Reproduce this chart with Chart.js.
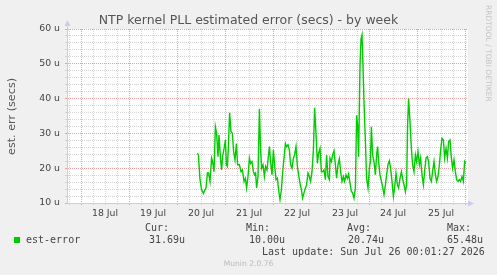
<!DOCTYPE html>
<html>
<head>
<meta charset="utf-8">
<script src="https://cdn.jsdelivr.net/npm/chart.js@4.4.1/dist/chart.umd.min.js"></script>
<style>
  html, body { margin: 0; padding: 0; background: #f0f0f0; }
  #wrap { position: relative; width: 497px; height: 275px; overflow: hidden; }
  canvas { position: absolute; left: 0; top: 0; }
  .t { position: absolute; white-space: pre; line-height: 1; font-family: "DejaVu Sans", sans-serif; }
  .mono { font-family: "DejaVu Sans Mono", monospace; font-size: 10px; color: #444; }
</style>
</head>
<body>
<div id="wrap">
  <canvas id="chart" width="497" height="275"></canvas>
  <div class="t" style="left:0;width:497px;top:13.5px;text-align:center;font-size:12.5px;color:#555">NTP kernel PLL estimated error (secs) - by week</div>
  <div class="t" style="left:6px;top:29px;width:12px;height:174px;line-height:12px;font-size:11.2px;color:#555;writing-mode:vertical-rl;transform:rotate(180deg);text-align:center">est. err (secs)</div>
  <div class="t" style="left:484px;top:5px;width:8px;line-height:8px;font-size:7.5px;color:#c4c4c4;writing-mode:vertical-rl">RRDTOOL / TOBI OETIKER</div>
  <div style="position:absolute;left:14px;top:237px;width:6px;height:6px;background:#00cc00"></div>
  <div class="t mono" style="left:26px;top:235px">est-error</div>
  <div class="t mono" style="left:145px;top:223px">Cur:</div>
  <div class="t mono" style="left:149px;top:235px">31.69u</div>
  <div class="t mono" style="left:246px;top:223px">Min:</div>
  <div class="t mono" style="left:249px;top:235px">10.00u</div>
  <div class="t mono" style="left:347px;top:223px">Avg:</div>
  <div class="t mono" style="left:348px;top:235px">20.74u</div>
  <div class="t mono" style="left:447px;top:223px">Max:</div>
  <div class="t mono" style="left:447px;top:235px">65.48u</div>
  <div class="t mono" style="left:262px;top:247px">Last update: Sun Jul 26 00:01:27 2026</div>
  <div class="t" style="left:0;width:497px;top:259.5px;text-align:center;font-size:7.6px;color:#bbb">Munin 2.0.76</div>
</div>
<script>
// hours counted from 18 Jul 00:00
const hours = [
  58.2,58.7,59.5,60.3,61.2,62.0,62.5,63.2,63.8,64.5,
  65.3,65.8,66.5,67.2,67.8,68.5,69.0,69.8,70.3,70.8,
  71.7,72.2,72.7,73.2,73.7,74.3,75.0,75.7,76.3,77.0,
  77.7,78.3,79.2,80.0,80.7,81.5,82.2,82.8,83.5,84.2,
  84.8,85.5,86.2,86.8,87.3,87.8,88.5,89.2,89.8,90.3,
  91.0,91.7,92.3,93.0,93.5,94.2,94.8,95.5,96.2,96.8,
  97.5,98.2,98.8,99.5,100.2,100.8,101.5,102.2,102.8,103.5,
  104.2,104.8,105.5,106.2,106.8,107.5,108.2,108.8,109.5,110.2,
  110.8,111.5,112.2,112.8,113.5,114.2,114.8,115.5,116.2,116.8,
  117.5,118.2,118.8,119.5,120.2,120.8,121.5,122.2,122.8,123.5,
  124.2,
  124.5,125.2,125.8,126.5,127.2,127.8,128.5,129.2,129.8,130.5,
  131.2,131.8,132.5,133.2,133.8,134.5,135.2,135.8,136.5,137.2,
  137.8,138.3,138.8,139.5,140.0,140.5,141.0,141.5,142.2,142.8,
  143.5,144.2,144.7,145.2,145.8,146.5,147.2,147.8,148.3,148.8,
  149.5,150.2,150.8,151.5,152.2,152.8,153.5,154.2,154.8,155.5,
  156.2,156.8,157.5,158.2,158.8,159.5,160.2,160.8,161.5,162.2,
  162.8,163.3,163.8,164.5,165.2,165.8,166.5,167.2,167.8,168.5,
  169.2,169.8,170.5,171.2,171.8,172.5,173.2,173.8,174.5,175.2,
  175.8,176.5,177.2,177.8,178.5,179.2,179.8,180.5,181.2,181.8,
  182.5,183.2,183.8,184.5,185.2,185.8,186.5,187.2,187.8,188.5,
  189.2,189.8,190.5,191.2,191.8,192.3
]
// est-error in microseconds
const estError = [
  24.3,23.8,16.7,13.8,12.7,13.8,14.3,18.6,18.6,16.2,
  22.9,21.9,19.0,31.9,30.0,23.3,29.5,22.4,19.5,23.3,
  26.2,28.1,21.0,20.5,26.2,35.9,30.5,30.0,24.8,22.4,
  27.1,21.0,21.0,19.0,19.5,16.2,17.1,14.3,17.6,22.9,
  21.4,21.9,19.0,18.1,18.6,14.3,17.6,37.1,25.2,20.0,
  21.0,17.6,20.5,19.5,22.4,26.2,21.9,18.1,25.2,21.0,
  16.7,17.1,13.8,11.0,13.8,18.6,22.9,27.1,26.2,26.7,
  25.2,21.0,20.0,22.9,23.8,26.2,20.5,18.1,15.7,13.8,
  11.4,12.9,14.3,15.2,18.6,17.6,16.2,19.0,25.2,37.4,
  30.0,21.4,24.3,25.7,19.0,19.0,19.5,16.7,23.8,17.6,
  16.7,
  22.9,21.9,23.8,25.0,21.0,17.1,21.0,22.7,19.0,16.2,
  17.6,16.2,18.1,17.1,18.3,15.7,13.3,12.9,11.4,14.3,
  35.2,32.4,23.3,49.5,57.1,58.3,49.5,39.0,27.6,17.1,
  14.3,20.0,21.9,31.9,23.8,21.9,18.1,23.8,26.2,21.9,
  18.1,16.2,14.8,12.4,15.2,18.1,21.0,22.1,20.0,16.2,
  11.9,14.3,18.6,15.2,14.3,17.1,19.0,17.1,15.2,13.3,
  15.2,32.4,40.0,33.3,25.7,21.0,19.0,23.8,21.9,24.8,
  21.0,22.9,18.1,15.2,19.0,22.9,23.3,21.9,17.1,16.2,
  19.0,21.9,18.1,16.2,17.6,21.0,25.2,28.6,28.1,22.9,
  25.7,22.9,27.6,28.1,22.9,20.0,22.4,19.0,16.7,16.2,
  16.7,16.2,17.6,16.2,21.9,21.4
]
const dayLabels = ['18 Jul', '19 Jul', '20 Jul', '21 Jul', '22 Jul', '23 Jul', '24 Jul', '25 Jul']
const yLabelValues = [10, 20, 30, 40, 50, 60]

const minorColor = 'rgba(212,212,212,1)'
const majorColor = 'rgba(236,160,160,1)'
const axisColor = '#c8ccf4'

const xTicks = []
for (let h = -6; h <= 192; h += 6) xTicks.push({value: h})
const yTicks = []
for (let v = 10; v <= 60; v += 2) yTicks.push({value: v})

const bgPlugin = {
  id: 'bg',
  beforeDraw(chart) {
    const {ctx, chartArea: a} = chart
    ctx.save()
    ctx.fillStyle = '#ffffff'
    ctx.fillRect(a.left, a.top, a.right - a.left, a.bottom - a.top)
    ctx.restore()
  }
}

const arrowPlugin = {
  id: 'arrows',
  afterDraw(chart) {
    const {ctx, chartArea: a} = chart
    const x = Math.round(a.left) + 0.5
    const y = Math.round(a.bottom) + 0.5
    ctx.save()
    ctx.strokeStyle = axisColor
    ctx.fillStyle = axisColor
    ctx.lineWidth = 1
    ctx.beginPath()
    ctx.moveTo(x, a.top)
    ctx.lineTo(x, a.top - 4)
    ctx.stroke()
    ctx.beginPath()
    ctx.moveTo(x - 3, a.top - 3)
    ctx.lineTo(x + 3, a.top - 3)
    ctx.lineTo(x, a.top - 9)
    ctx.closePath()
    ctx.fill()
    ctx.beginPath()
    ctx.moveTo(a.right, y - 3)
    ctx.lineTo(a.right, y + 3)
    ctx.lineTo(a.right + 6, y)
    ctx.closePath()
    ctx.fill()
    ctx.restore()
  }
}

const gridColor = (c) => {
  const v = c.tick ? c.tick.value : 0
  return c.scale.axis === 'x'
    ? (v % 24 === 0 ? majorColor : minorColor)
    : (v % 10 === 0 ? majorColor : minorColor)
}

const tickFont = {family: 'DejaVu Sans', size: 9.33}

new Chart(document.getElementById('chart'), {
  type: 'line',
  data: {
    datasets: [{
      label: 'est-error',
      data: hours.map((h, i) => ({x: h, y: estError[i]})),
      borderColor: '#00cc00',
      borderWidth: 1.4,
      pointRadius: 0,
      tension: 0,
      fill: false
    }]
  },
  options: {
    responsive: false,
    animation: false,
    devicePixelRatio: 1,
    layout: {padding: {left: 0, top: 29, right: 29, bottom: 0}},
    plugins: {legend: {display: false}, tooltip: {enabled: false}, title: {display: false}},
    scales: {
      x: {
        type: 'linear',
        min: -7,
        max: 193.5,
        afterBuildTicks: (s) => { s.ticks = xTicks.map(t => ({value: t.value})) },
        afterFit: (s) => { s.height = 72 },
        grid: {color: gridColor, tickColor: gridColor, tickLength: 2, lineWidth: 1},
        border: {color: axisColor, dash: [1, 1], width: 1},
        ticks: {
          autoSkip: false,
          maxRotation: 0,
          padding: 3,
          font: tickFont,
          color: '#444',
          callback: (v) => {
            const k = (v - 12) / 24
            return Number.isInteger(k) && k >= 0 && k < dayLabels.length ? dayLabels[k] : ''
          }
        }
      },
      y: {
        min: 10,
        max: 60,
        afterBuildTicks: (s) => { s.ticks = yTicks.map(t => ({value: t.value})) },
        afterFit: (s) => { s.width = 67 },
        grid: {color: gridColor, tickColor: gridColor, tickLength: 2, lineWidth: 1},
        border: {color: axisColor, dash: [1, 1], width: 1},
        ticks: {
          autoSkip: false,
          padding: 5,
          font: tickFont,
          color: '#444',
          callback: (v) => yLabelValues.includes(v) ? v + ' u' : ''
        }
      }
    }
  },
  plugins: [bgPlugin, arrowPlugin]
})
</script>
</body>
</html>
